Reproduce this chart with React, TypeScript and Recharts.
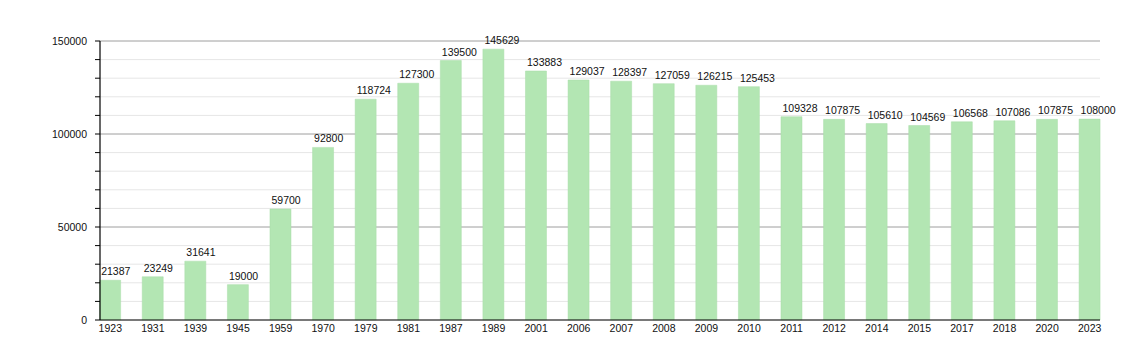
import { BarChart, Bar, XAxis, YAxis, CartesianGrid, LabelList } from "recharts";

const years = ["1923", "1931", "1939", "1945", "1959", "1970", "1979", "1981", "1987", "1989", "2001", "2006", "2007", "2008", "2009", "2010", "2011", "2012", "2014", "2015", "2017", "2018", "2020", "2023"];
const population = [21387, 23249, 31641, 19000, 59700, 92800, 118724, 127300, 139500, 145629, 133883, 129037, 128397, 127059, 126215, 125453, 109328, 107875, 105610, 104569, 106568, 107086, 107875, 108000];
const minorTicks = [0, 10000, 20000, 30000, 40000, 50000, 60000, 70000, 80000, 90000, 100000, 110000, 120000, 130000, 140000, 150000];
const majorTicks = [50000, 100000, 150000];

const data = years.map((year, i) => ({ year, value: population[i] }));

const font = "'Liberation Sans', Arial, sans-serif";

function BarValue(props: any) {
  const { x, y, value } = props;
  return (
    <text x={x + 1.5} y={y - 5} fontSize={10.5} fontFamily={font} fill="#111" textAnchor="start">
      {value}
    </text>
  );
}

export default function App() {
  return (
    <div style={{ position: "absolute", left: 0, top: 0, width: 1140, height: 360, background: "#fff" }}>
      <BarChart
        width={1140}
        height={360}
        data={data}
        margin={{ top: 41, right: 40, left: 0, bottom: 20 }}
        barCategoryGap="25%"
      >
        <CartesianGrid horizontal vertical={false} stroke="#e6e6e6" horizontalValues={minorTicks} />
        <CartesianGrid horizontal vertical={false} stroke="#aaaaaa" horizontalValues={majorTicks} />
        <XAxis
          dataKey="year"
          interval={0}
          padding={{ left: -11, right: -11 }}
          tickLine={false}
          tickSize={3}
          axisLine={{ stroke: "#000", strokeWidth: 1.2 }}
          tick={{ fontSize: 10.5, fontFamily: font, fill: "#111" }}
          height={20}
        />
        <YAxis
          width={100}
          domain={[0, 150000]}
          ticks={minorTicks}
          interval={0}
          tickSize={5}
          tickMargin={8}
          tickFormatter={(v: number) => (v % 50000 === 0 ? String(v) : "")}
          axisLine={{ stroke: "#000", strokeWidth: 1.2 }}
          tickLine={{ stroke: "#000" }}
          tick={{ fontSize: 10.5, fontFamily: font, fill: "#111" }}
        />
        <Bar dataKey="value" fill="#b3e6b3" stroke="#a8dca8" strokeWidth={0.5} isAnimationActive={false}>
          <LabelList dataKey="value" content={BarValue} />
        </Bar>
      </BarChart>
    </div>
  );
}
